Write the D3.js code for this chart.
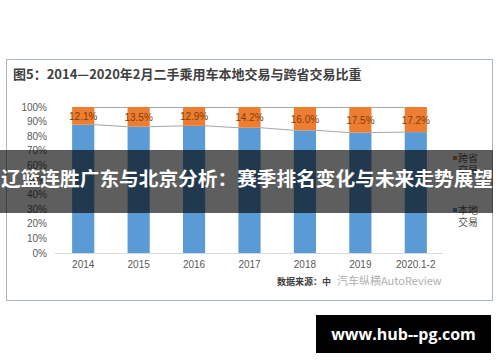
<!DOCTYPE html>
<html><head><meta charset="utf-8">
<script src="https://cdn.jsdelivr.net/npm/d3@7"></script>
<style>body{margin:0;background:#fff;}svg{display:block;}</style>
</head><body>
<svg id="c" width="500" height="362"></svg>
<script>
const categories = ["2014","2015","2016","2017","2018","2019","2020.1-2"];
const crossProvince = [12.1,13.5,12.9,14.2,16.0,17.5,17.2];
const local = crossProvince.map(v => +(100 - v).toFixed(1));
const yTicks = [0,10,20,30,40,50,60,70,80,90,100];
const seriesNames = ["本地交易","跨省交易"];

const svg = d3.select("#c");
const font = "'Noto Sans CJK SC','Liberation Sans',sans-serif";

// frame
svg.append("rect").attr("x",6.5).attr("y",59.5).attr("width",486).attr("height",241)
  .attr("fill","#fff").attr("stroke","#a9b6c2").attr("stroke-width",1);

svg.append("text").attr("x",13).attr("y",79).attr("font-family",font).attr("font-size",13)
  .attr("font-weight","bold").attr("fill","#404040")
  .text("图5：2014—2020年2月二手乘用车本地交易与跨省交易比重");

const x = d3.scaleBand().domain(categories).range([55.5,443.5]).paddingInner(0.6).paddingOuter(0.3);
const y = d3.scaleLinear().domain([0,100]).range([253,107]);

// y axis labels
svg.append("g").selectAll("text").data(yTicks).join("text")
  .attr("x",47).attr("y",d=>y(d)+3.5).attr("text-anchor","end")
  .attr("font-family","'Liberation Sans',sans-serif").attr("font-size",10).attr("fill","#595959")
  .text(d=>d+"%");

// baseline
svg.append("line").attr("x1",55).attr("x2",443).attr("y1",y(0)+0.5).attr("y2",y(0)+0.5)
  .attr("stroke","#d9d9d9").attr("stroke-width",1);

const bw = x.bandwidth();
// bars
svg.append("g").selectAll("rect").data(categories).join("rect")
  .attr("x",d=>x(d)).attr("width",bw)
  .attr("y",(d,i)=>y(local[i])).attr("height",(d,i)=>y(0)-y(local[i]))
  .attr("fill","#5b9bd5");
svg.append("g").selectAll("rect").data(categories).join("rect")
  .attr("x",d=>x(d)).attr("width",bw)
  .attr("y",y(100)).attr("height",(d,i)=>y(local[i])-y(100))
  .attr("fill","#ed7d31");

// series lines
const sl = svg.append("g").attr("stroke","#a6a6a6").attr("stroke-width",1).attr("fill","none");
for(let i=0;i<categories.length-1;i++){
  sl.append("line").attr("x1",x(categories[i])+bw).attr("x2",x(categories[i+1]))
    .attr("y1",y(local[i])).attr("y2",y(local[i+1]));
  sl.append("line").attr("x1",x(categories[i])+bw).attr("x2",x(categories[i+1]))
    .attr("y1",y(100)+0.5).attr("y2",y(100)+0.5);
}

// labels
svg.append("g").selectAll("text").data(categories).join("text")
  .attr("x",d=>x(d)+bw/2).attr("y",(d,i)=>(y(100)+y(local[i]))/2+4)
  .attr("text-anchor","middle").attr("font-family","'Liberation Sans',sans-serif")
  .attr("font-size",10).attr("fill","#843c0c")
  .text((d,i)=>crossProvince[i].toFixed(1)+"%");

// x labels
svg.append("g").selectAll("text").data(categories).join("text")
  .attr("x",d=>x(d)+bw/2).attr("y",268).attr("text-anchor","middle")
  .attr("font-family","'Liberation Sans',sans-serif").attr("font-size",10).attr("fill","#595959")
  .text(d=>d);

// legend
const leg = [{name:seriesNames[1],c:"#ed7d31",y:162},{name:seriesNames[0],c:"#5b9bd5",y:214}];
leg.forEach(l=>{
  svg.append("rect").attr("x",453).attr("y",l.y-6).attr("width",4).attr("height",4).attr("fill",l.c);
  svg.append("text").attr("x",458).attr("y",l.y).attr("font-family",font).attr("font-size",10).attr("fill","#595959").text(l.name.slice(0,2));
  svg.append("text").attr("x",458).attr("y",l.y+12).attr("font-family",font).attr("font-size",10).attr("fill","#595959").text(l.name.slice(2));
});

// source
svg.append("text").attr("x",277).attr("y",285).attr("font-family",font).attr("font-size",9)
  .attr("font-weight","bold").attr("fill","#404040").text("数据来源：中");
svg.append("text").attr("x",337).attr("y",285).attr("font-family",font).attr("font-size",11)
  .attr("fill","#9a9a9a").attr("opacity",0.8).text("汽车纵横AutoReview");

// overlay banner
svg.append("rect").attr("x",0).attr("y",150).attr("width",493).attr("height",63).attr("fill","rgba(0,0,0,0.63)");
svg.append("text").attr("x",247).attr("y",186).attr("text-anchor","middle").attr("font-family",font)
  .attr("font-size",19).attr("font-weight","bold").attr("fill","#fff")
  .attr("textLength",492).attr("lengthAdjust","spacingAndGlyphs")
  .text("辽篮连胜广东与北京分析：赛季排名变化与未来走势展望");

// bottom box
svg.append("rect").attr("x",316).attr("y",315).attr("width",175).attr("height",38).attr("fill","#000");
svg.append("text").attr("x",403.5).attr("y",340).attr("text-anchor","middle")
  .attr("font-family","'Open Sans','DejaVu Sans',sans-serif").attr("font-size",16).attr("font-weight","bold")
  .attr("fill","#fff").text("www.hub--pg.com");
</script>
</body></html>
